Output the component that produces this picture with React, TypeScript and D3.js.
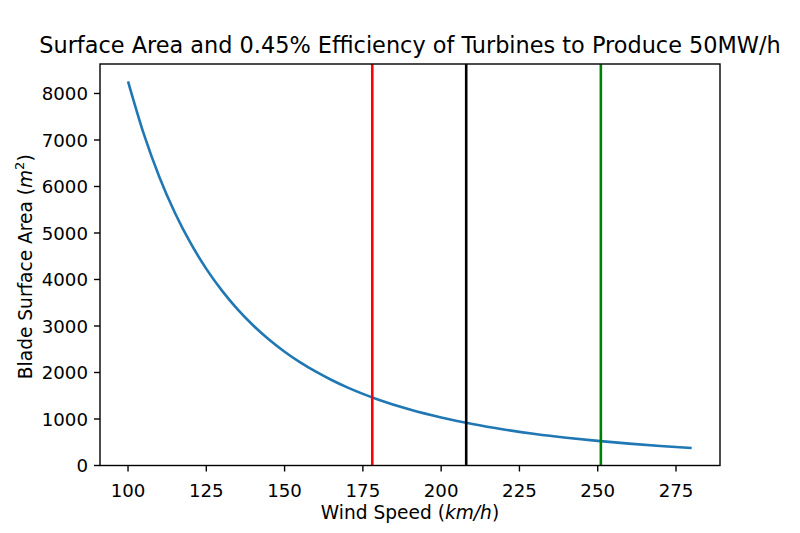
import React, { useEffect, useRef } from 'react';
import * as d3 from 'd3';

// wind speed (km/h) and blade surface area (m^2)
const windSpeeds: number[] = [100, 105, 110, 115, 120, 125, 130, 135, 140, 145, 150, 155, 160, 165, 170, 175, 180, 190, 200, 210, 220, 230, 240, 250, 260, 270, 280];
const areas: number[] = [8260, 7135, 6206, 5431, 4780, 4229, 3760, 3357, 3010, 2709, 2447, 2218, 2017, 1839, 1681, 1541, 1416, 1204, 1033, 892, 776, 679, 598, 529, 470, 420, 376];

// vertical reference speeds
const markerSpeeds: number[] = [178, 208, 251];
const markerColors: string[] = ['#ff0000', '#000000', '#008000'];

const xTicks: number[] = [100, 125, 150, 175, 200, 225, 250, 275];
const yTicks: number[] = [0, 1000, 2000, 3000, 4000, 5000, 6000, 7000, 8000];

const W = 800;
const H = 533;
const left = 100, right = 720, top = 64, bottom = 465.5;

const App: React.FC = () => {
  const ref = useRef<SVGSVGElement | null>(null);

  useEffect(() => {
    const svg = d3.select(ref.current);
    svg.selectAll('*').remove();

    const x = d3.scaleLinear().domain([91.05, 289.05]).range([left, right]);
    const y = d3.scaleLinear().domain([0, 8634]).range([bottom, top]);

    const font = 'DejaVu Sans, sans-serif';

    // curve
    const line = d3.line<number>()
      .x((_d, i) => x(windSpeeds[i]))
      .y(d => y(d))
      .curve(d3.curveMonotoneX);

    svg.append('path')
      .attr('d', line(areas) as string)
      .attr('fill', 'none')
      .attr('stroke', '#1f77b4')
      .attr('stroke-width', 2.6);

    // vertical lines
    markerSpeeds.forEach((s, i) => {
      svg.append('line')
        .attr('x1', x(s)).attr('x2', x(s))
        .attr('y1', top).attr('y2', bottom)
        .attr('stroke', markerColors[i])
        .attr('stroke-width', 2.6);
    });

    // axes frame
    svg.append('rect')
      .attr('x', left).attr('y', top)
      .attr('width', right - left).attr('height', bottom - top)
      .attr('fill', 'none')
      .attr('stroke', '#000')
      .attr('stroke-width', 1.4);

    // x ticks
    const xg = svg.append('g');
    xTicks.forEach(t => {
      xg.append('line')
        .attr('x1', x(t)).attr('x2', x(t))
        .attr('y1', bottom).attr('y2', bottom + 6)
        .attr('stroke', '#000').attr('stroke-width', 1.4);
      xg.append('text')
        .attr('x', x(t)).attr('y', bottom + 31)
        .attr('text-anchor', 'middle')
        .attr('font-family', font).attr('font-size', 18.2)
        .text(String(t));
    });

    // y ticks
    const yg = svg.append('g');
    yTicks.forEach(t => {
      yg.append('line')
        .attr('x1', left - 6).attr('x2', left)
        .attr('y1', y(t)).attr('y2', y(t))
        .attr('stroke', '#000').attr('stroke-width', 1.4);
      yg.append('text')
        .attr('x', left - 12).attr('y', y(t))
        .attr('dy', '0.36em')
        .attr('text-anchor', 'end')
        .attr('font-family', font).attr('font-size', 18.2)
        .text(String(t));
    });

    // title
    svg.append('text')
      .attr('x', (left + right) / 2).attr('y', 53)
      .attr('text-anchor', 'middle')
      .attr('font-family', font).attr('font-size', 22.4)
      .text('Surface Area and 0.45% Efficiency of Turbines to Produce 50MW/h');

    // x label
    const xl = svg.append('text')
      .attr('x', (left + right) / 2).attr('y', 519)
      .attr('text-anchor', 'middle')
      .attr('font-family', font).attr('font-size', 18.6);
    xl.append('tspan').text('Wind Speed (');
    xl.append('tspan').attr('font-style', 'italic').text('km/h');
    xl.append('tspan').text(')');

    // y label
    const yl = svg.append('text')
      .attr('transform', `translate(32,${(top + bottom) / 2 + 2}) rotate(-90)`)
      .attr('text-anchor', 'middle')
      .attr('font-family', font).attr('font-size', 18.6);
    yl.append('tspan').text('Blade Surface Area (');
    yl.append('tspan').attr('font-style', 'italic').text('m');
    yl.append('tspan').attr('font-size', 13).attr('dy', -8).text('2');
    yl.append('tspan').attr('dy', 8).text(')');
  }, []);

  return (
    <svg
      ref={ref}
      width={W}
      height={H}
      style={{ position: 'absolute', left: 0, top: 0, background: '#fff' }}
    />
  );
};

export default App;
